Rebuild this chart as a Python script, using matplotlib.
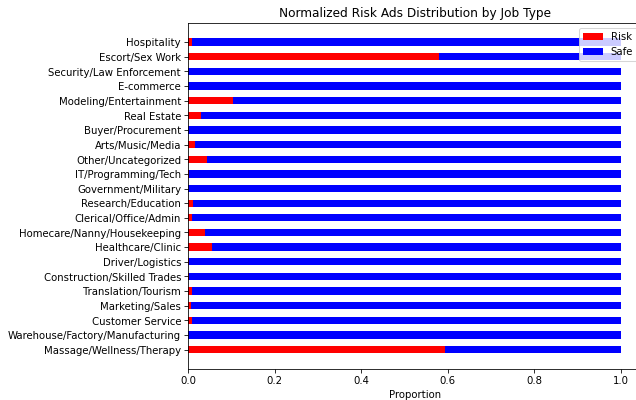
import matplotlib
matplotlib.use("Agg")
import matplotlib.pyplot as plt
import numpy as np

# job types, bottom to top
job_types = [
    "Massage/Wellness/Therapy",
    "Warehouse/Factory/Manufacturing",
    "Customer Service",
    "Marketing/Sales",
    "Translation/Tourism",
    "Construction/Skilled Trades",
    "Driver/Logistics",
    "Healthcare/Clinic",
    "Homecare/Nanny/Housekeeping",
    "Clerical/Office/Admin",
    "Research/Education",
    "Government/Military",
    "IT/Programming/Tech",
    "Other/Uncategorized",
    "Arts/Music/Media",
    "Buyer/Procurement",
    "Real Estate",
    "Modeling/Entertainment",
    "E-commerce",
    "Security/Law Enforcement",
    "Escort/Sex Work",
    "Hospitality",
]

# share of ads flagged as risky in each job type
risk_share = [
    0.595, 0.0, 0.008, 0.007, 0.008, 0.002, 0.001, 0.056, 0.040, 0.008, 0.011,
    0.0, 0.003, 0.044, 0.016, 0.0, 0.029, 0.104, 0.0, 0.0, 0.579, 0.009,
]

risk = np.array(risk_share)
safe = 1.0 - risk
y = np.arange(len(job_types))

DPI = 72.5
fig = plt.figure(figsize=(636.3 / DPI, 400.3 / DPI), dpi=DPI)
ax = fig.add_axes([188 / 636, 31 / 400, 454 / 636, 346 / 400])

ax.barh(y, risk, height=0.5, color="red", label="Risk")
ax.barh(y, safe, left=risk, height=0.5, color="blue", label="Safe")

ax.set_yticks(y)
ax.set_yticklabels(job_types)
ax.set_xlim(0, 1.05)
ax.set_xlabel("Proportion")
ax.set_title("Normalized Risk Ads Distribution by Job Type")
ax.legend(loc="upper right")

fig.savefig("out.png", dpi=DPI)
